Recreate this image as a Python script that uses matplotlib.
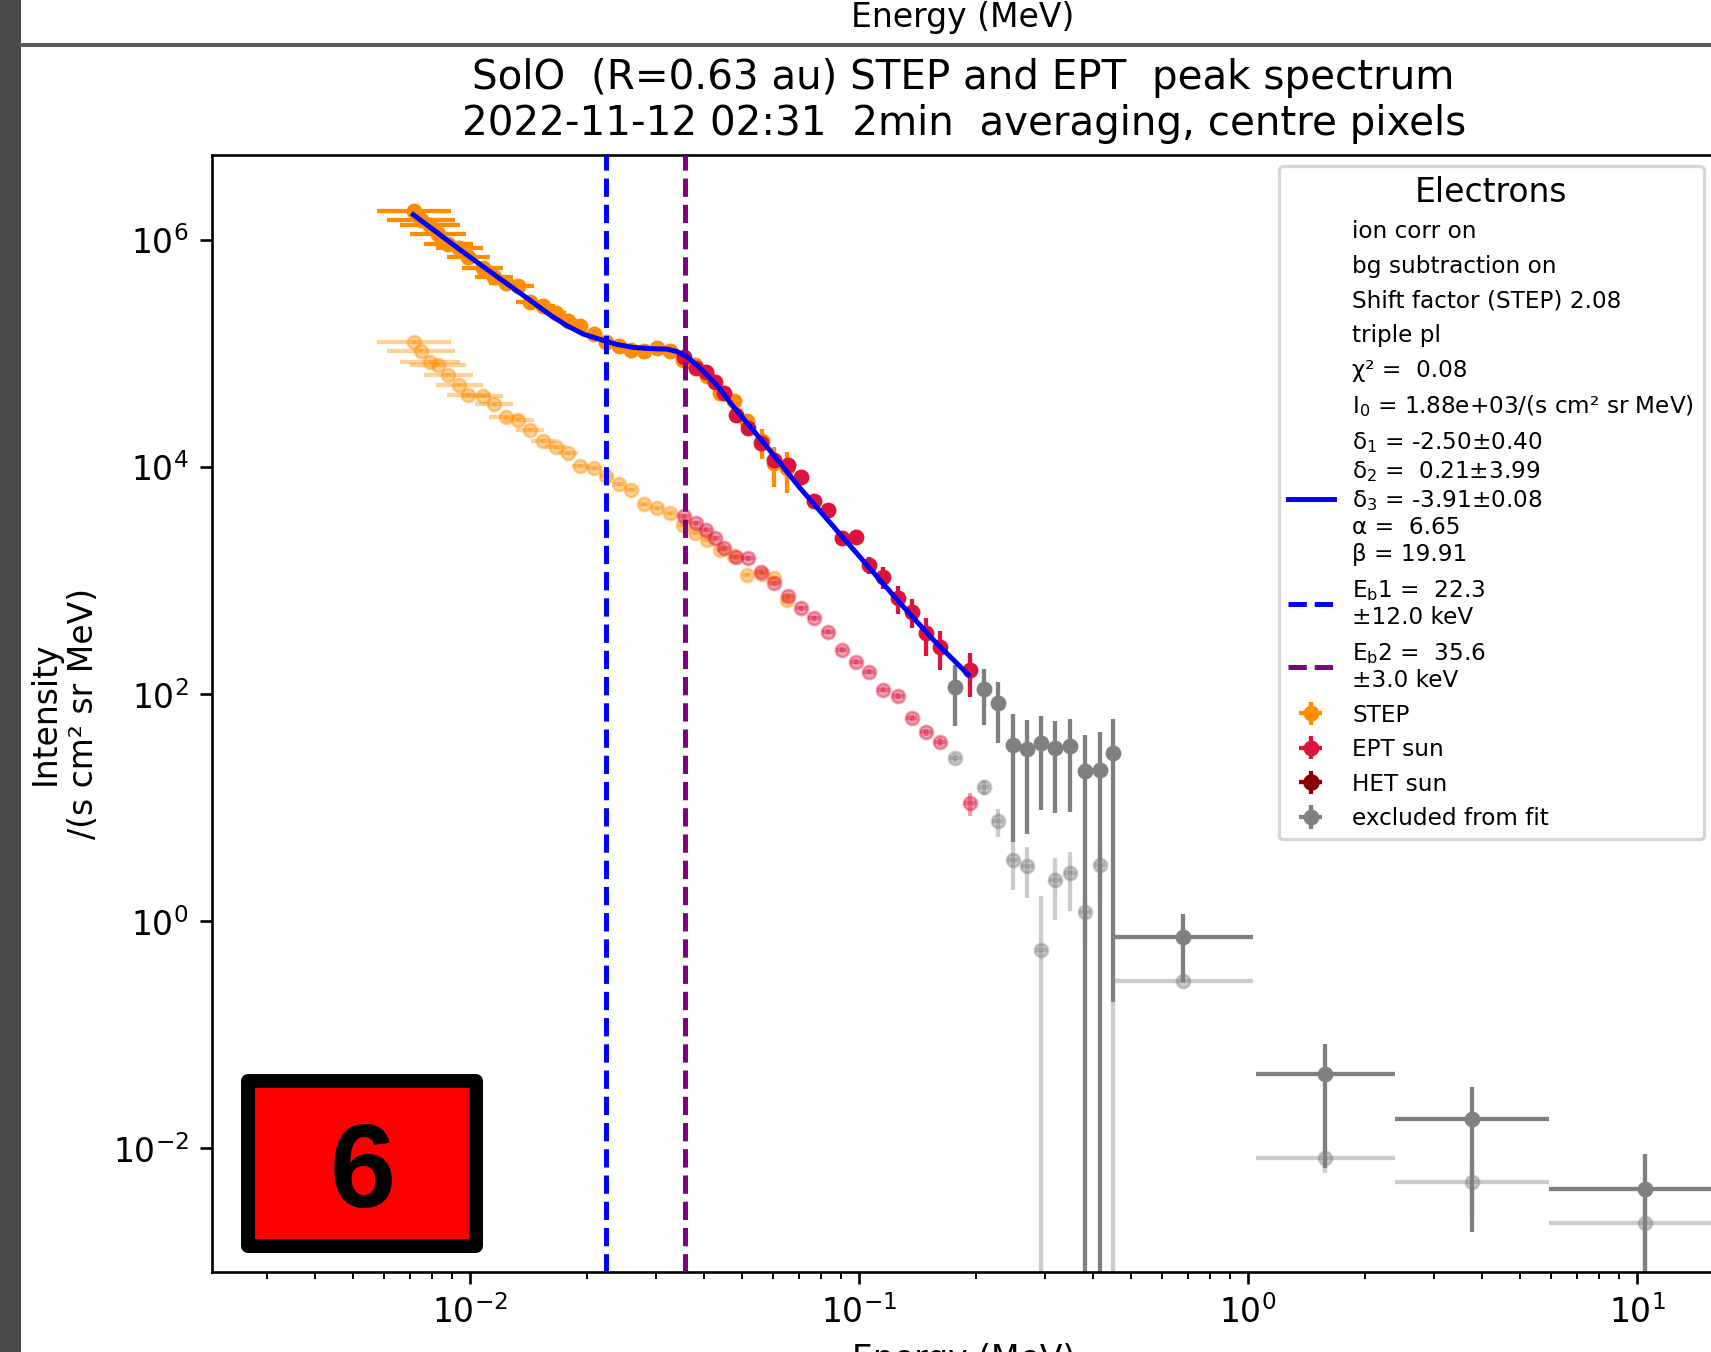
import numpy as np
import matplotlib
matplotlib.use("Agg")
import matplotlib.pyplot as plt
from matplotlib.lines import Line2D
from matplotlib.patches import Rectangle

# ---------------- data ----------------
# STEP electrons (energy in MeV, intensity in 1/(s cm2 sr MeV))
step_E = [0.00718, 0.00748, 0.00789, 0.00829, 0.00880, 0.00939, 0.00990, 0.01078,
          0.01153, 0.01236, 0.01331, 0.01426, 0.01538, 0.0166, 0.0179, 0.0192,
          0.0208, 0.0224, 0.0241, 0.0259, 0.0280, 0.0303, 0.0327, 0.0353,
          0.0379, 0.0406, 0.0440, 0.0476, 0.0514, 0.0562, 0.0603, 0.0652]
step_I = [1.795e6, 1.517e6, 1.352e6, 1.135e6, 9.27e5, 8.53e5, 7.11e5, 5.70e5,
          4.76e5, 4.17e5, 3.98e5, 2.88e5, 2.66e5, 2.29e5, 1.93e5, 1.74e5,
          1.50e5, 1.26e5, 1.175e5, 1.08e5, 1.05e5, 1.12e5, 1.05e5, 8.85e4,
          8.0e4, 6.31e4, 4.51e4, 3.80e4, 2.54e4, 1.69e4, 1.09e4, 9.84e3]
step_I_faint = [1.268e5, 1.062e5, 8.55e4, 8.0e4, 6.53e4, 5.33e4, 4.36e4, 4.21e4,
                3.61e4, 2.75e4, 2.62e4, 2.14e4, 1.71e4, 1.50e4, 1.33e4, 1.03e4,
                9.84e3, 8.47e3, 7.11e3, 6.34e3, 4.74e3, 4.37e3, 3.94e3, 3.11e3,
                2.63e3, 2.30e3, 1.87e3, 1.64e3, 1.13e3, 1.15e3, 1.06e3, 681]
step_xhw_dex = [0.096, 0.087, 0.077, 0.072, 0.064, 0.061, 0.055, 0.052,
                0.048, 0.043, 0.040, 0.036, 0.031, 0.027, 0.024, 0.021,
                0.018, 0.016, 0.015, 0.014, 0.014, 0.014, 0.013, 0.013,
                0.013, 0.013, 0.012, 0.012, 0.012, 0.012, 0.012, 0.012]
step_rel = [0.03, 0.03, 0.03, 0.03, 0.03, 0.03, 0.03, 0.03,
            0.03, 0.03, 0.03, 0.07, 0.07, 0.07, 0.07, 0.07,
            0.07, 0.07, 0.07, 0.07, 0.07, 0.07, 0.07, 0.07,
            0.07, 0.07, 0.07, 0.07, 0.07, 0.30, 0.38, 0.40]
step_rel_faint = [0.03] * 32

# EPT sun electrons
ept_E = [0.0355, 0.0380, 0.0404, 0.0425, 0.0450, 0.0482, 0.0518, 0.0560, 0.0606,
         0.0658, 0.0711, 0.0766, 0.0832, 0.0902, 0.0981, 0.106, 0.115, 0.1258,
         0.1365, 0.1488, 0.1615, 0.1766, 0.1925, 0.209, 0.227, 0.248, 0.270,
         0.293, 0.319, 0.348, 0.381, 0.415, 0.4496]
ept_I = [9.46e4, 7.48e4, 6.98e4, 5.70e4, 4.51e4, 2.90e4, 2.21e4, 1.63e4, 1.164e4,
         1.052e4, 8.30e3, 5.00e3, 4.23e3, 2.38e3, 2.43e3, 1.384e3, 1.091e3, 705,
         537, 347, 263, 117, 164, 111, 83.6, 35.9, 32.9,
         37.2, 33.6, 35.2, 21.3, 21.6, 30.2]
ept_rel = [0.03, 0.03, 0.03, 0.03, 0.03, 0.03, 0.03, 0.03, 0.03,
           0.03, 0.03, 0.03, 0.03, 0.03, 0.05, 0.17, 0.22, 0.27,
           0.29, 0.37, 0.38, 0.55, 0.42, 0.52, 0.55, 0.86, 0.82,
           0.74, 0.73, 0.74, 1.06, 1.17, 0.9935]
# last faint value lies below the plotted range; only its upper error bar shows
ept_I_faint = [3690, 3220, 2810, 2377, 1941, 1618, 1585, 1208, 955,
               728, 575, 470, 357, 247, 194.5, 158.5, 109.6, 97.0,
               61.7, 46.4, 38.4, 27.4, 10.96, 15.4, 7.69, 3.48, 3.08,
               0.561, 2.32, 2.66, 1.22, 3.15, 5e-4]
ept_rel_faint = [0.05, 0.05, 0.05, 0.05, 0.05, 0.05, 0.05, 0.05, 0.05,
                 0.05, 0.05, 0.05, 0.05, 0.05, 0.05, 0.05, 0.05, 0.06,
                 0.06, 0.07, 0.08, 0.08, 0.23, 0.15, 0.28, 0.46, 0.48,
                 2.0, 0.56, 0.54, 0.5, 0.5, 391.0]
ept_excluded = [False] * 21 + [True, False] + [True] * 10
ept_xhw_dex = [0.015] * 33

# HET sun electrons (all excluded from fit)
het_E = [0.681, 1.58, 3.77, 10.47]
het_E_low = [0.452, 1.048, 2.388, 5.94]
het_E_high = [1.031, 2.388, 5.94, 18.5]
het_I = [0.734, 0.0451, 0.0183, 0.00436]
het_rel = [0.6, 0.85, 0.9, 1.04]
het_I_faint = [0.299, 0.00818, 0.00503, 0.00219]
het_rel_faint = [0.05, 0.25, 0.5, 0.8]

# triple power-law fit curve
fit_E = [0.00715, 0.00804, 0.00981, 0.01194, 0.01455, 0.01606, 0.01772, 0.01956,
         0.02158, 0.02383, 0.02630, 0.02960, 0.03204, 0.03400, 0.03606, 0.03902,
         0.04306, 0.04752, 0.05790, 0.07053, 0.08590, 0.10466, 0.12750, 0.15524,
         0.19099]
fit_I = [1.68e6, 1.24e6, 7.45e5, 4.58e5, 2.82e5, 2.20e5, 1.775e5, 1.49e5,
         1.34e5, 1.21e5, 1.137e5, 1.107e5, 1.10e5, 1.048e5, 9.47e4, 7.48e4,
         5.33e4, 3.43e4, 1.525e4, 6.56e3, 3.01e3, 1.384e3, 636, 302,
         148.6]
Eb1 = 0.0223
Eb2 = 0.0356

title_text = ("SolO  (R=0.63 au) STEP and EPT  peak spectrum\n"
              "2022-11-12 02:31  2min  averaging, centre pixels")
info_labels = ["ion corr on", "bg subtraction on", "Shift factor (STEP) 2.08",
               "triple pl", "χ² =  0.08",
               r"I$_0$ = 1.88e+03/(s cm² sr MeV)"]
fit_label = ("δ$_1$ = -2.50±0.40\nδ$_2$ =  0.21±3.99\nδ$_3$ = -3.91±0.08\n"
             "α =  6.65\nβ = 19.91")
eb1_label = "E$_\\mathrm{b}$1 =  22.3\n±12.0 keV"
eb2_label = "E$_\\mathrm{b}$2 =  35.6\n±3.0 keV"
panel_number = "6"

# ---------------- figure ----------------
DPI = 237.6
W, H = 1711, 1352
fig = plt.figure(figsize=(W / DPI + 0.001, H / DPI + 0.001), dpi=DPI)
fig.patch.set_facecolor("white")

ax_l, ax_r, ax_t, ax_b = 212, 1715, 155, 1272
ax = fig.add_axes([ax_l / W, (H - ax_b) / H, (ax_r - ax_l) / W, (ax_b - ax_t) / H])
ax.set_xscale("log")
ax.set_yscale("log")

C_STEP = "darkorange"
C_EPT = "crimson"
C_HET = "darkred"
C_EXC = "gray"
ELW = 1.3
MS = 4
FAINT = 0.4


def draw(E, I, lo, hi, rel, color, alpha, z, label=None):
    E = np.asarray(E, float)
    I = np.asarray(I, float)
    sig = I * np.asarray(rel, float)
    ylo = np.minimum(sig, I * (1 - 1e-6))
    return ax.errorbar(E, I, xerr=[E - np.asarray(lo, float), np.asarray(hi, float) - E],
                       yerr=[ylo, sig], fmt="o", ms=MS, color=color, ecolor=color,
                       elinewidth=ELW, capsize=0, alpha=alpha, zorder=z, label=label,
                       mew=0.8)


sE = np.asarray(step_E)
s_hw = 10 ** np.asarray(step_xhw_dex)
s_lo, s_hi = sE / s_hw, sE * s_hw

eE = np.asarray(ept_E)
e_hw = 10 ** np.asarray(ept_xhw_dex)
e_lo, e_hi = eE / e_hw, eE * e_hw
exc = np.asarray(ept_excluded)
inc = ~exc
eI = np.asarray(ept_I)
eIf = np.asarray(ept_I_faint)
er = np.asarray(ept_rel)
erf = np.asarray(ept_rel_faint)

# faint (pre-correction) spectra
draw(het_E, het_I_faint, het_E_low, het_E_high, het_rel_faint, C_EXC, FAINT, 1)
draw(eE[exc], eIf[exc], e_lo[exc], e_hi[exc], erf[exc], C_EXC, FAINT, 1)
draw(step_E, step_I_faint, s_lo, s_hi, step_rel_faint, C_STEP, FAINT, 1)
draw(eE[inc], eIf[inc], e_lo[inc], e_hi[inc], erf[inc], C_EPT, FAINT, 1)

# main spectra
h_step = draw(step_E, step_I, s_lo, s_hi, step_rel, C_STEP, 1.0, 2)
h_ept = draw(eE[inc], eI[inc], e_lo[inc], e_hi[inc], er[inc], C_EPT, 1.0, 2)
h_exc = draw(eE[exc], eI[exc], e_lo[exc], e_hi[exc], er[exc], C_EXC, 1.0, 2)
draw(het_E, het_I, het_E_low, het_E_high, het_rel, C_EXC, 1.0, 2)
h_het = ax.errorbar([np.nan], [np.nan], xerr=[1.0], yerr=[1.0], fmt="o", ms=MS,
                    color=C_HET, ecolor=C_HET, elinewidth=ELW, capsize=0)

h_fit, = ax.plot(fit_E, fit_I, color="blue", lw=1.5, zorder=3)
h_eb1 = ax.axvline(Eb1, color="blue", ls="--", lw=1.5, zorder=4)
h_eb2 = ax.axvline(Eb2, color="purple", ls="--", lw=1.5, zorder=4)

ax.set_xlim(2.172e-3, 15.87)
ax.set_ylim(8.17e-4, 5.66e6)
ax.tick_params(labelsize=10)
ax.set_xlabel("Energy (MeV)", fontsize=10)
ax.set_ylabel("Intensity\n/(s cm² sr MeV)", fontsize=10)
ax.set_title(title_text, fontsize=12.25)

blank = [Line2D([], [], ls="none", marker="none") for _ in info_labels]
handles = blank + [h_fit, h_eb1, h_eb2, h_step, h_ept, h_het, h_exc]
labels = info_labels + [fit_label, eb1_label, eb2_label,
                        "STEP", "EPT sun", "HET sun", "excluded from fit"]
ax.legend(handles, labels, loc="upper right", fontsize=7, title="Electrons",
          title_fontsize=10)

# ---------------- surrounding screenshot elements ----------------
fig.add_artist(Rectangle((0, 0), 21 / W, 1, transform=fig.transFigure,
                         facecolor="#4a4a4c", edgecolor="none", zorder=10))
fig.add_artist(Line2D([21 / W, 1], [1 - 45.5 / H, 1 - 45.5 / H], transform=fig.transFigure,
                      color="#5a5a5a", lw=1.2, zorder=10))
fig.text(963 / W, 1 - 17 / H, "Energy (MeV)", ha="center", va="center", fontsize=10)

bx0, bx1, by0, by1 = 247.7, 475.7, 1081, 1246.3
fig.add_artist(Rectangle((bx0 / W, (H - by1) / H), (bx1 - bx0) / W, (by1 - by0) / H,
                         transform=fig.transFigure, facecolor="#ff0000",
                         edgecolor="black", lw=14 * 72 / DPI, joinstyle="round",
                         zorder=11))
fig.text(362.3 / W, (H - 1206.7) / H, panel_number, ha="center", va="baseline",
         fontsize=36, fontweight="bold", family="Liberation Sans", zorder=12)

fig.savefig("out.png", dpi=DPI, facecolor="white")
